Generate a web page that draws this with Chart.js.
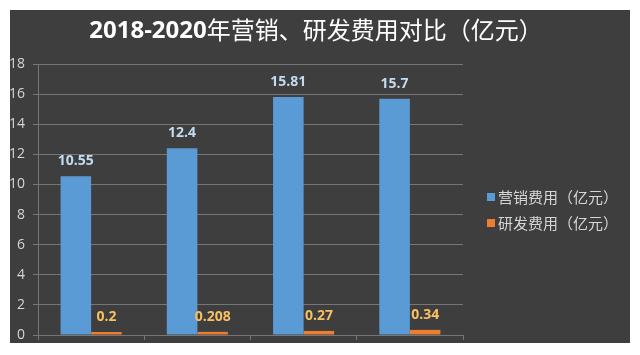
<!DOCTYPE html>
<html>
<head>
<meta charset="utf-8">
<script src="https://cdn.jsdelivr.net/npm/chart.js@4.4.1/dist/chart.umd.min.js"></script>
<style>
html,body{margin:0;padding:0;background:#ffffff;}
#wrap{width:640px;height:355px;position:relative;}
</style>
</head>
<body>
<div id="wrap"><canvas id="c" width="640" height="355"></canvas></div>
<script>
const categories = ['2018', '2019', '2020', '2021'];
const marketingLabel = '营销费用（亿元）';
const rndLabel = '研发费用（亿元）';
const marketingValues = [10.55, 12.4, 15.81, 15.7];
const rndValues = [0.2, 0.208, 0.27, 0.34];
const yTicks = [0, 2, 4, 6, 8, 10, 12, 14, 16, 18];
const titleNum = '2018-2020';
const titleText = '年营销、研发费用对比（亿元）';

const BG = '#3e3e3e';
const GRID = '#767676';
const TXT = '#d6d6d6';
const BLUE = '#5b9bd5';
const ORANGE = '#ed7d31';
const BLUE_LBL = '#c3dbf1';
const ORANGE_LBL = '#f6c063';

const bgPlugin = {
  id: 'bgPlugin',
  beforeDraw(chart) {
    const ctx = chart.ctx;
    ctx.save();
    ctx.fillStyle = '#ffffff';
    ctx.fillRect(0, 0, chart.width, chart.height);
    ctx.fillStyle = BG;
    ctx.fillRect(10, 10, 620, 333);
    ctx.restore();
  }
};

const decorPlugin = {
  id: 'decorPlugin',
  afterDatasetsDraw(chart) {
    const ctx = chart.ctx;
    ctx.save();
    // data labels
    const colors = [BLUE_LBL, ORANGE_LBL];
    chart.data.datasets.forEach((ds, di) => {
      const meta = chart.getDatasetMeta(di);
      meta.data.forEach((el, i) => {
        ctx.font = 'bold 14px "Open Sans", "Noto Sans", sans-serif';
        ctx.fillStyle = colors[di];
        ctx.textAlign = 'center';
        ctx.textBaseline = 'middle';
        ctx.fillText(String(ds.data[i]), el.x, el.y - 15);
      });
    });
    // title
    ctx.textBaseline = 'middle';
    ctx.textAlign = 'left';
    const fNum = 'bold 24px "Open Sans", "Noto Sans", sans-serif';
    const fTxt = '24px "Noto Sans CJK SC", sans-serif';
    ctx.font = fNum; const w1 = ctx.measureText(titleNum).width;
    ctx.font = fTxt; const w2 = ctx.measureText(titleText).width;
    const x0 = 316 - (w1 + w2) / 2;
    ctx.fillStyle = '#ffffff';
    ctx.font = fNum; ctx.fillText(titleNum, x0, 31);
    ctx.font = fTxt; ctx.fillText(titleText, x0 + w1, 30);
    // legend
    const items = chart.data.datasets.map(d => [d.label, d.backgroundColor]);
    items.forEach((it, k) => {
      const y = 197 + k * 26;
      ctx.fillStyle = it[1];
      ctx.fillRect(487, y - 4, 8, 8);
      ctx.fillStyle = TXT;
      ctx.font = '15px "Noto Sans CJK SC", sans-serif';
      ctx.textAlign = 'left';
      ctx.fillText(it[0], 498, y);
    });
    ctx.restore();
  }
};

new Chart(document.getElementById('c'), {
  type: 'bar',
  data: {
    labels: categories,
    datasets: [
      { label: marketingLabel, data: marketingValues, backgroundColor: BLUE,
        categoryPercentage: 0.575, barPercentage: 1.0 },
      { label: rndLabel, data: rndValues, backgroundColor: ORANGE,
        categoryPercentage: 0.575, barPercentage: 1.0 }
    ]
  },
  options: {
    responsive: false,
    animation: false,
    devicePixelRatio: 1,
    layout: { padding: { left: 0, top: 64, right: 177, bottom: 0 } },
    plugins: { legend: { display: false }, title: { display: false }, tooltip: { enabled: false } },
    scales: {
      x: {
        grid: { display: true, drawOnChartArea: false, drawTicks: true, tickLength: 5, color: GRID, offset: true },
        border: { display: true, color: GRID, width: 1 },
        ticks: { display: false },
        afterFit(s) { s.height = 20; }
      },
      y: {
        min: 0, max: 18,
        afterBuildTicks(s) { s.ticks = yTicks.map(v => ({ value: v })); },
        grid: { color: GRID, lineWidth: 1, tickLength: 5 },
        border: { display: true, color: GRID, width: 1 },
        ticks: { color: TXT, font: { size: 14, family: '"Open Sans", "Noto Sans", sans-serif' }, padding: 8 },
        afterFit(s) { s.width = 38; }
      }
    }
  },
  plugins: [bgPlugin, decorPlugin]
});
</script>
</body>
</html>
